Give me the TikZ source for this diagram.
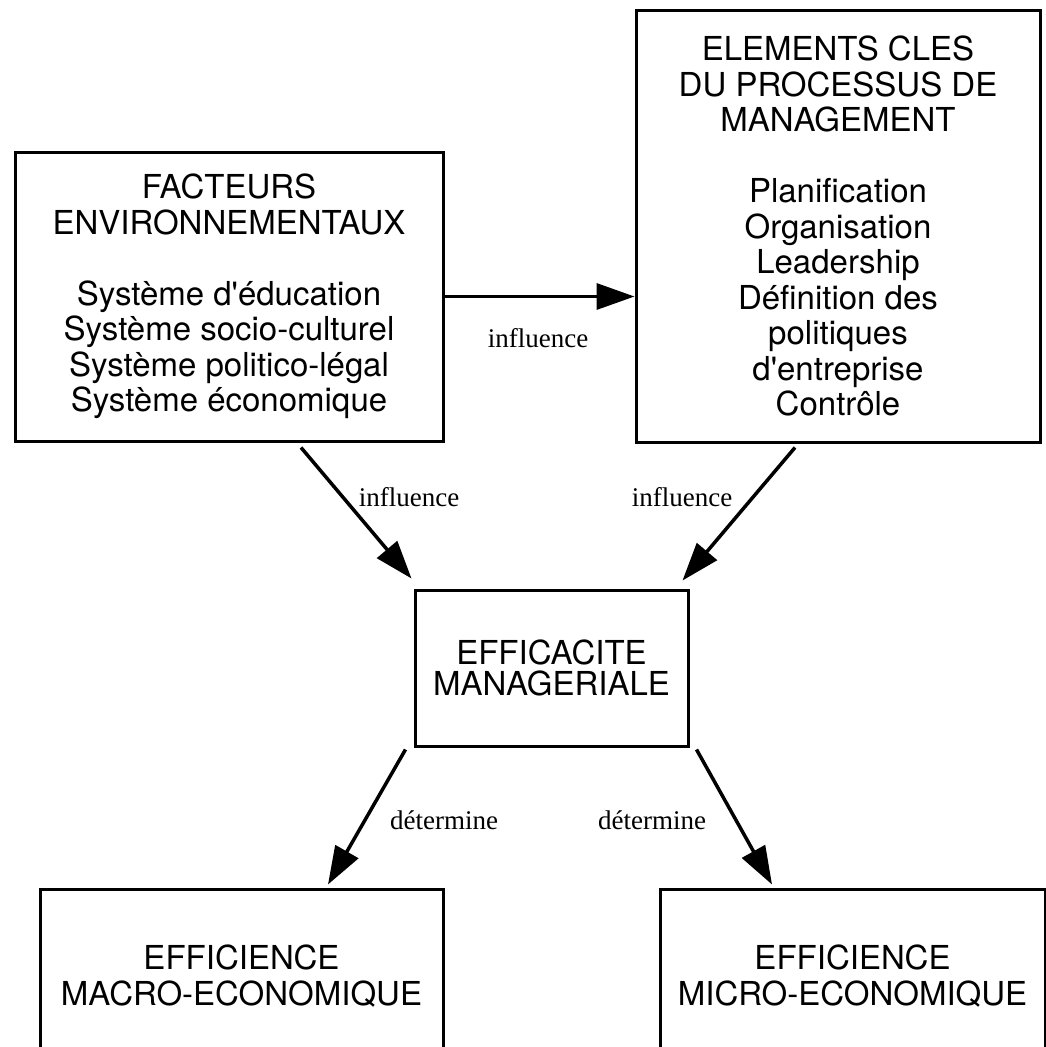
\documentclass[tikz,border=0pt]{standalone}
\usepackage{fontspec}
\setmainfont{Liberation Serif}
\newfontfamily\hv{TeX Gyre Heros}
\usetikzlibrary{arrows.meta,calc}
\begin{document}
\begin{tikzpicture}[x=1pt,y=-1pt,
  box/.style={draw, line width=3pt, align=center, font=\hv\fontsize{33}{35.5}\selectfont, inner sep=0pt},
  tx/.style={align=center, font=\hv\fontsize{33}{36}\selectfont, inner sep=0pt},
  lbl/.style={font=\fontsize{27}{30}\selectfont, inner sep=0pt},
  arr/.style={line width=3.5pt, -{Triangle[length=38pt,width=26pt]}}]
\useasboundingbox (0,0) rectangle (1046,1047);
\clip (0,0) rectangle (1046,1047);
\fill[white] (0,0) rectangle (1046,1047);
\node[box, minimum width=428pt, minimum height=289pt] (env) at (229,296.5)
  {FACTEURS\\ENVIRONNEMENTAUX\\[35.5pt]Système d\textquotesingle éducation\\Système socio-culturel\\Système politico-légal\\Système économique};
\node[box, minimum width=404pt, minimum height=432pt] (proc) at (838,226)
  {ELEMENTS CLES\\DU PROCESSUS DE\\MANAGEMENT\\[35.5pt]Planification\\Organisation\\Leadership\\Définition des\\politiques\\d\textquotesingle entreprise\\Contrôle};
\node[box, minimum width=273pt, minimum height=156pt, font=\hv\fontsize{33}{31}\selectfont] (eff) at (551.5,668)
  {EFFICACITE\\MANAGERIALE};
\node[box, minimum width=403pt, minimum height=250pt] (macro) at (241.5,1014) {};
\node[box, minimum width=385pt, minimum height=250pt] (micro) at (852.5,1014) {};
\node[tx] (macrot) at ([yshift=-89pt]macro.north) {EFFICIENCE\\MACRO-ECONOMIQUE};
\node[tx] (microt) at ([yshift=-89pt]micro.north) {EFFICIENCE\\MICRO-ECONOMIQUE};
\node[lbl] (l1) at (538,338) {influence};
\node[lbl] (l2) at (409,497) {influence};
\node[lbl] (l3) at (682,497) {influence};
\node[lbl] (l4) at (444,820) {détermine};
\node[lbl] (l5) at (652,820) {détermine};
\coordinate (a1) at ($(env.south)+(72,5)$);
\coordinate (a1e) at ($(eff.north west)+(-2,-10)$);
\coordinate (a2) at ($(proc.south)+(-43,4)$);
\coordinate (a2e) at ($(eff.north east)+(-7,-8)$);
\coordinate (a3) at ($(eff.south west)+(-8,2)$);
\coordinate (a3e) at ($(macro.north)+(86.5,-3)$);
\coordinate (a4) at ($(eff.south east)+(7,2)$);
\coordinate (a4e) at ($(micro.north)+(-80.5,-3)$);
\draw[arr] (env.east) -- (env.east -| proc.west);
\draw[arr] (a1) -- (a1e);
\draw[arr] (a2) -- (a2e);
\draw[arr] (a3) -- (a3e);
\draw[arr] (a4) -- (a4e);
\end{tikzpicture}
\end{document}
